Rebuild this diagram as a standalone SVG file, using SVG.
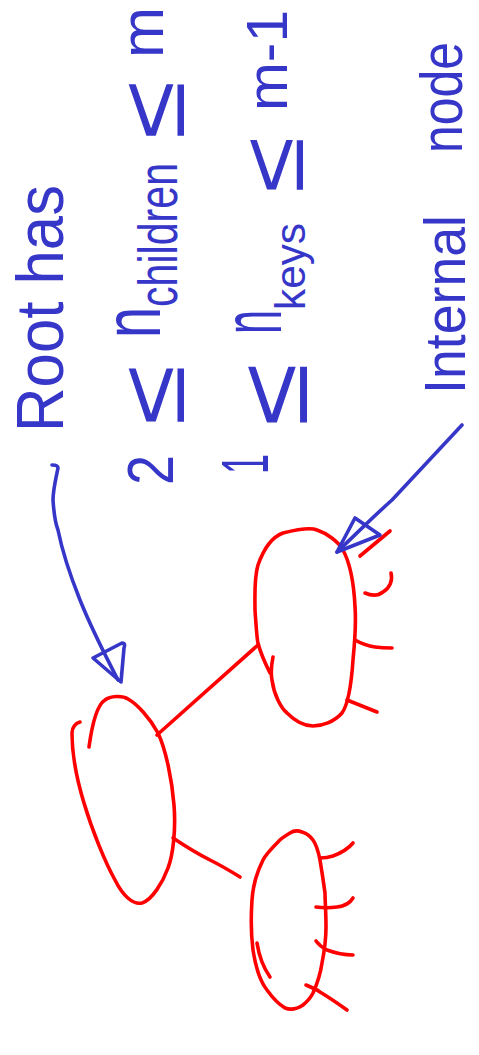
<svg xmlns="http://www.w3.org/2000/svg" width="479" height="1055" viewBox="0 0 479 1055">
<style>
.t{font-family:"Liberation Sans","DejaVu Sans",sans-serif;fill:#3636c8}
.r{fill:none;stroke:#ff0000;stroke-width:3.6;stroke-linecap:round;stroke-linejoin:round}
.b{fill:none;stroke:#3636c8;stroke-width:3.6;stroke-linecap:round;stroke-linejoin:round}
</style>
<rect width="479" height="1055" fill="#ffffff"/>
<g id="labels">
<text class="t" font-size="66" transform="translate(63,432) rotate(-90)" textLength="247" lengthAdjust="spacingAndGlyphs">Root has</text>
<text class="t" font-size="64" transform="translate(173,485) rotate(-90)" textLength="30" lengthAdjust="spacingAndGlyphs">2</text>
<text class="t" font-size="92" transform="translate(184,425) rotate(-90)" textLength="60" lengthAdjust="spacingAndGlyphs">≤</text>
<text class="t" font-size="82" transform="translate(160,338) rotate(-90)" textLength="31" lengthAdjust="spacingAndGlyphs">n</text>
<text class="t" font-size="55" transform="translate(177,307) rotate(-90)" textLength="144" lengthAdjust="spacingAndGlyphs">children</text>
<text class="t" font-size="92" transform="translate(184,139) rotate(-90)" textLength="58" lengthAdjust="spacingAndGlyphs">≤</text>
<text class="t" font-size="62" transform="translate(163,58) rotate(-90)" textLength="51" lengthAdjust="spacingAndGlyphs">m</text>
<text class="t" font-size="66" transform="translate(268,474) rotate(-90)" textLength="20" lengthAdjust="spacingAndGlyphs">1</text>
<text class="t" font-size="98" transform="translate(307,426) rotate(-90)" textLength="63" lengthAdjust="spacingAndGlyphs">≤</text>
<text class="t" font-size="86" transform="translate(281,334) rotate(-90)" textLength="24" lengthAdjust="spacingAndGlyphs">n</text>
<text class="t" font-size="42" transform="translate(305,310) rotate(-90)" textLength="87" lengthAdjust="spacingAndGlyphs">keys</text>
<text class="t" font-size="88" transform="translate(303,193) rotate(-90)" textLength="56" lengthAdjust="spacingAndGlyphs">≤</text>
<text class="t" font-size="58" transform="translate(287,111) rotate(-90)" textLength="101" lengthAdjust="spacingAndGlyphs">m-1</text>
<text class="t" font-size="58" transform="translate(465,394) rotate(-90)" textLength="179" lengthAdjust="spacingAndGlyphs">Internal</text>
<text class="t" font-size="60" transform="translate(462,153) rotate(-90)" textLength="111" lengthAdjust="spacingAndGlyphs">node</text>
</g>
<g id="root-node">
<path class="r" d="M89,747 C92,725 97,705 105,700 C110,696 122,695 128,699 C137,704 150,718 158,733 C166,750 172,780 174,805 C176,830 173,855 168,868 C163,882 152,900 142,903 C133,905 123,896 115,880 C105,862 92,830 84,803 C77,780 72,755 72,733 C72,727 76,723 80,722"/>
</g>
<g id="internal-node">
<path class="r" d="M273,657 C271,667 271,675 272,680 C274,695 281,708 287,713 C294,720 304,726 313,726 C322,726 334,722 342,713 C347,706 351,690 353,660 C355,640 356,620 355,607 C354,585 351,565 343,550 C338,541 326,533 317,530 C310,527 295,530 283,533 C272,537 264,548 258,565 C254,578 255,595 255,610 C256,625 257,640 258,643 C261,655 266,665 270,673"/>
<path class="r" d="M360,556 L390,531"/>
<path class="r" d="M365,593 C372,596 378,596 383,592 C390,588 393,580 391,573"/>
<path class="r" d="M355,640 C362,644 368,646 375,647 C382,648 387,648 392,648"/>
<path class="r" d="M347,700 L377,712"/>
</g>
<g id="leaf-node">
<path class="r" d="M302,832 C297,830 293,831 290,833 C285,836 280,839 278,842 C272,848 266,854 263,860 C257,872 253,885 252,900 C251,915 251,935 253,950 C255,963 259,980 267,990 C272,997 280,1005 285,1008 C290,1010 297,1009 303,1005 C308,1001 311,997 313,993 C318,982 321,970 322,963 C325,948 326,935 326,927 C326,912 325,900 325,893 C323,878 321,866 320,860 C318,850 316,844 313,840 C310,836 306,833 302,832"/>
<path class="r" d="M257,943 C259,956 263,967 270,977"/>
<path class="r" d="M320,858 C325,858 330,857 333,856 C341,853 348,849 353,843"/>
<path class="r" d="M316,907 C323,908 330,908 337,907 C345,906 350,903 353,898"/>
<path class="r" d="M316,941 C319,945 323,948 327,950 C335,953 345,955 353,955"/>
<path class="r" d="M306,985 C311,987 316,989 320,992 C330,998 340,1005 347,1010"/>
</g>
<g id="connectors">
<path class="r" d="M157,735 L258,645"/>
<path class="r" d="M173,838 C185,846 200,855 210,860 C222,866 232,872 240,877"/>
<path class="b" d="M52,465 C56,465 58,466 58,468 C56,478 53,490 53,500 C54,515 56,525 58,530 C62,550 70,575 80,600 C90,625 105,655 118,680"/>
<path class="b" d="M93,658 L122,643 C125,643 125,645 124,648 L121,682 Z"/>
<path class="b" d="M462,425 L392,500 C375,515 355,535 337,552"/>
<path class="b" d="M355,518 L380,535 L337,552 Z" fill="#3636c8" fill-opacity="0.6"/>
</g>
</svg>
